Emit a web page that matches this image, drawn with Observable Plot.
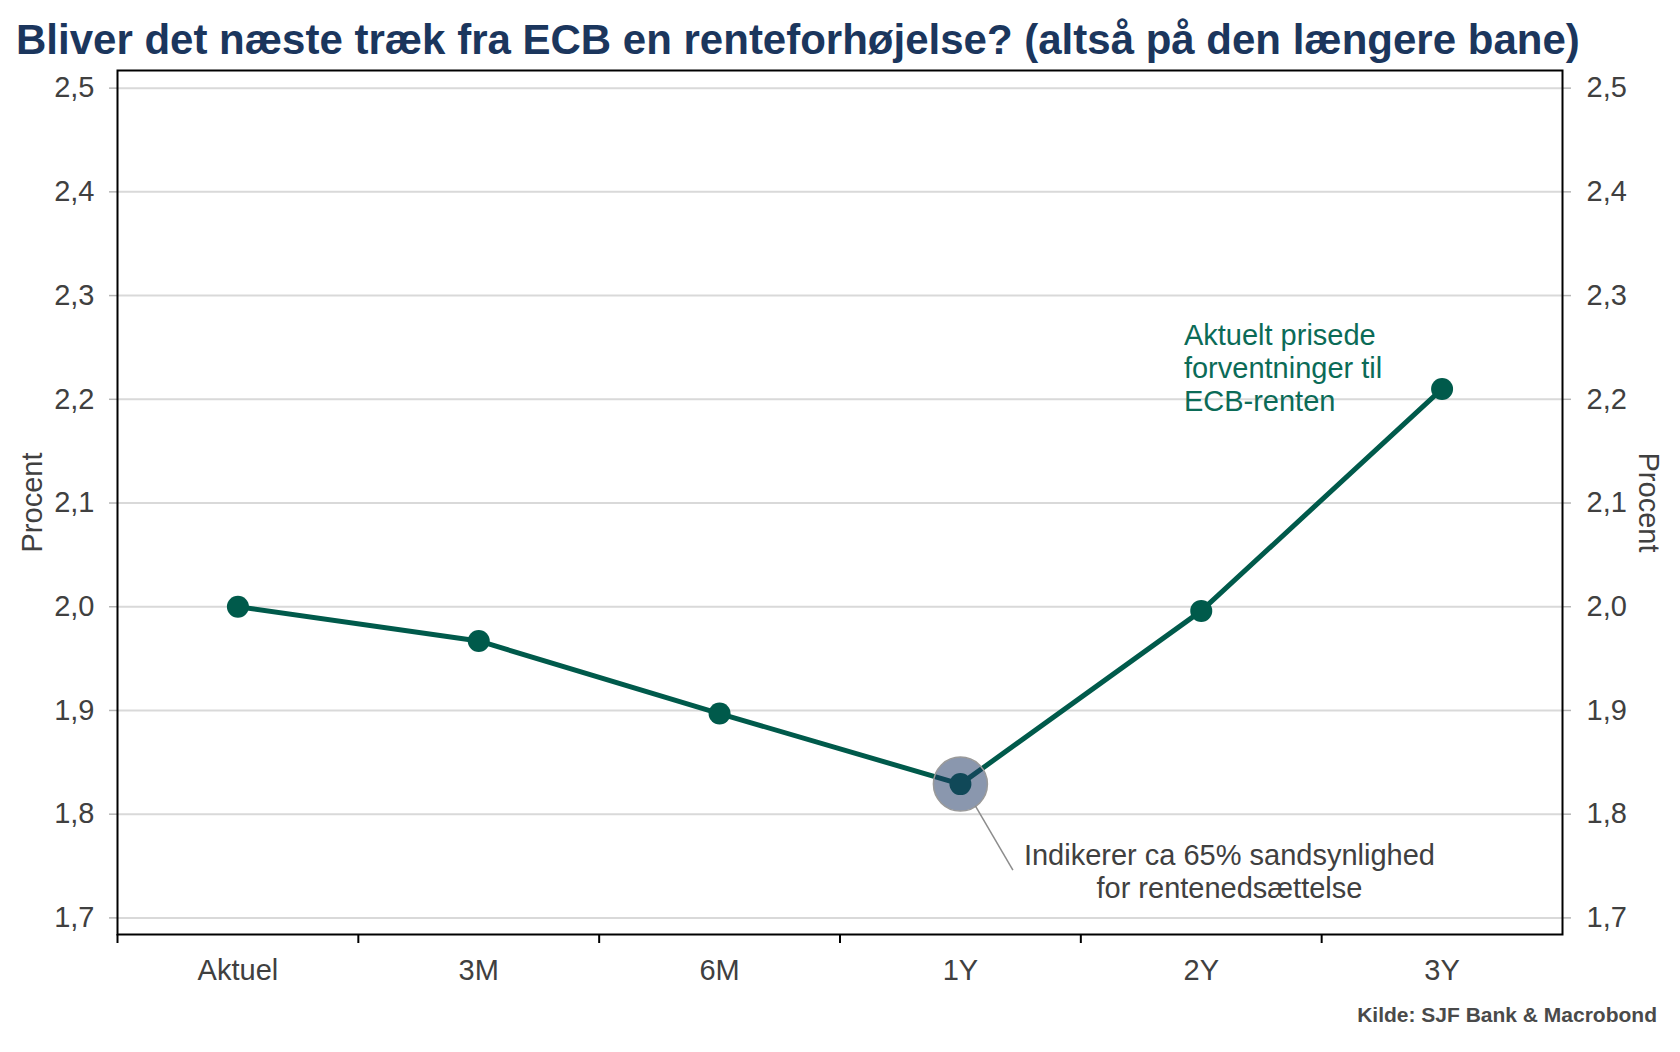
<!DOCTYPE html>
<html>
<head>
<meta charset="utf-8">
<script src="https://cdn.jsdelivr.net/npm/d3@7"></script>
<script src="https://cdn.jsdelivr.net/npm/@observablehq/plot@0.6"></script>
<style>
  html, body { margin: 0; padding: 0; background: #ffffff; }
  body { width: 1680px; font-family: "Liberation Sans", Arial, sans-serif; }
  #title { font-size: 42px; line-height: 42px; font-weight: bold; color: #1b365d; padding: 19px 0 0 16px; height: 42px; white-space: nowrap; }
  #chart svg { display: block; }
  #caption { font-size: 21px; line-height: 24px; font-weight: bold; color: #4a4a4a; text-align: right; padding-right: 23px; margin-top: 11px; }
</style>
</head>
<body>
<div id="title">Bliver det næste træk fra ECB en renteforhøjelse? (altså på den længere bane)</div>
<div id="chart"></div>
<div id="caption">Kilde: SJF Bank &amp; Macrobond</div>
<script>
// ---- data ----
const categories = ["Aktuel", "3M", "6M", "1Y", "2Y", "3Y"];
const values = [2.00, 1.967, 1.897, 1.829, 1.996, 2.210];
const yTicks = [1.7, 1.8, 1.9, 2.0, 2.1, 2.2, 2.3, 2.4, 2.5];
const yDomain = [1.684, 2.517];
const highlightCategory = "1Y";
const noteText = "Indikerer ca 65% sandsynlighed\nfor rentenedsættelse";
const notePos = {x: 4.117, y: 1.745};
const leaderPos = {x1: 3.062, y1: 1.808, x2: 3.218, y2: 1.746};
const seriesText = "Aktuelt prisede\nforventninger til\nECB-renten";
const seriesPos = {x: 3.928, y: 2.231};
const axisTitle = "Procent";

// ---- build ----
const n = categories.length;
const data = categories.map((c, i) => ({i, c, v: values[i]}));
const boundaries = d3.range(n).map(i => i - 0.5);
const fmt = d => d3.format(".1f")(d).replace(".", ",");
const lineColor = "#005a4b";

const chart = Plot.plot({
  width: 1680,
  height: 931,
  marginTop: 9,
  marginLeft: 117,
  marginRight: 118,
  marginBottom: 58,
  style: {fontFamily: "'Liberation Sans', Arial, sans-serif", fontSize: "29px", color: "#404040", background: "white", overflow: "visible"},
  x: {type: "linear", domain: [-0.5, n - 0.5]},
  y: {domain: yDomain},
  marks: [
    Plot.gridY(yTicks, {stroke: "#d9d9d9", strokeOpacity: 1, strokeWidth: 2}),
    Plot.axisY(yTicks, {anchor: "left", tickSize: 8, tickPadding: 15, stroke: "#b5b5b5", strokeWidth: 1.5, tickFormat: fmt, label: null, fill: "#404040"}),
    Plot.axisY(yTicks, {anchor: "right", tickSize: 8, tickPadding: 16, stroke: "#b5b5b5", strokeWidth: 1.5, tickFormat: fmt, label: null, fill: "#404040"}),
    Plot.axisX(boundaries, {anchor: "bottom", tickSize: 9, stroke: "black", strokeWidth: 2, tickFormat: () => "", label: null}),
    Plot.axisX(d3.range(n), {anchor: "bottom", tickSize: 0, tickPadding: 25, tickFormat: i => categories[i], label: null, fill: "#404040"}),
    Plot.frame({stroke: "black", strokeWidth: 2}),
    Plot.line(data, {x: "i", y: "v", stroke: lineColor, strokeWidth: 5}),
    Plot.dot(data, {x: "i", y: "v", r: 11, fill: lineColor}),
    Plot.dot(data.filter(d => d.c === highlightCategory), {x: "i", y: "v", r: 27, fill: "#1f3864", fillOpacity: 0.52, stroke: "#9a9a9a", strokeWidth: 1.5}),
    Plot.link([leaderPos], {x1: "x1", y1: "y1", x2: "x2", y2: "y2", stroke: "#8c8c8c", strokeWidth: 1.5}),
    Plot.text([noteText], {x: notePos.x, y: notePos.y, text: d => d, textAnchor: "middle", lineAnchor: "middle", lineHeight: 1.14, fill: "#404040", fontSize: 29}),
    Plot.text([seriesText], {x: seriesPos.x, y: seriesPos.y, text: d => d, textAnchor: "start", lineAnchor: "middle", lineHeight: 1.14, fill: "#0b6b57", fontSize: 29}),
    Plot.text([axisTitle], {frameAnchor: "left", dx: -85, rotate: -90, textAnchor: "middle", lineAnchor: "middle", fill: "#404040", fontSize: 29}),
    Plot.text([axisTitle], {frameAnchor: "right", dx: 86, rotate: 90, textAnchor: "middle", lineAnchor: "middle", fill: "#404040", fontSize: 29})
  ]
});
document.getElementById("chart").appendChild(chart);
</script>
</body>
</html>
